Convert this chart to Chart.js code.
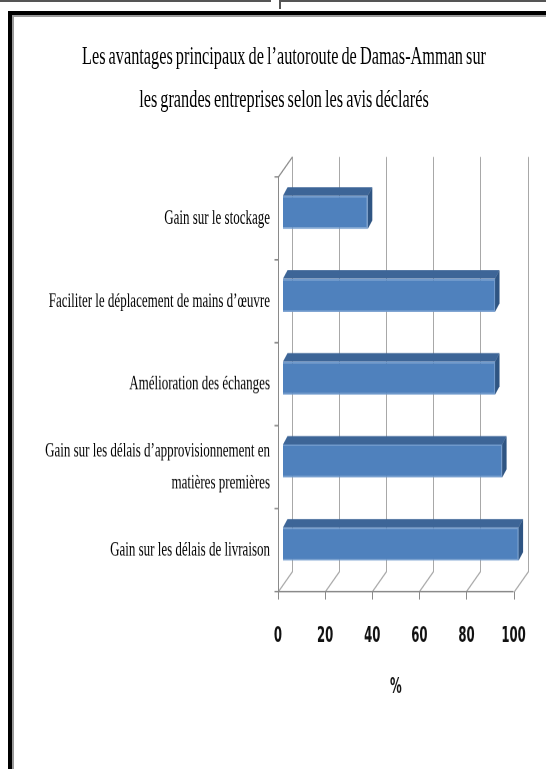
<!DOCTYPE html>
<html>
<head>
<meta charset="utf-8">
<script src="https://cdn.jsdelivr.net/npm/chart.js@4/dist/chart.umd.min.js"></script>
<style>
  html, body { margin: 0; padding: 0; background: #fff; overflow: hidden; }
  body { width: 546px; height: 769px; position: relative; }
  /* the source picture is a squeezed chart, so the canvas is drawn flat and stretched */
  #wrap { position: absolute; left: 0; top: 0; width: 546px; height: 481px; transform: scaleY(1.5988); transform-origin: 0 0; }
  #title { position: absolute; left: 22px; right: 0; top: 22px; text-align: center; font: 16.3px/26.9px 'Liberation Serif', serif; color: #000; word-spacing: -1px; }
  .edge { position: absolute; background: #555; }
  #frame { position: absolute; left: 8px; top: 11px; width: 560px; height: 780px; border-top: 4px solid #000; border-left: 4px solid #000; box-shadow: inset 2px 2px 0 #9a9a9a; pointer-events: none; }
</style>
</head>
<body>
<div class="edge" style="left:0;top:0;width:271px;height:2px"></div>
<div class="edge" style="left:281px;top:0;width:265px;height:2px"></div>
<div class="edge" style="left:279px;top:0;width:2px;height:9px"></div>
<div id="frame"></div>
<div id="wrap"><div id="title"></div><canvas id="chart"></canvas></div>
<script>
const titleLines = ["Les avantages principaux de l\u2019autoroute de Damas-Amman sur", "les grandes entreprises selon les avis d\u00e9clar\u00e9s"];
const categories = [
  "Gain sur le stockage",
  "Faciliter le d\u00e9placement de mains d\u2019\u0153uvre",
  "Am\u00e9lioration des \u00e9changes",
  ["Gain sur les d\u00e9lais d\u2019approvisionnement en", "mati\u00e8res premi\u00e8res"],
  "Gain sur les d\u00e9lais de livraison"
];
const values = [36, 90, 90, 93, 100];
const xTicks = [0, 20, 40, 60, 80, 100];
const axisTitle = "%";

const wallDepth = { dx: 14, dy: -12.5 };
const barShift = { dx: 5, dy: -3.75 };
const barDepth = { dx: 4.5, dy: -5.3 };

document.getElementById('title').innerHTML = titleLines.join('<br>');

const walls = {
  id: 'walls',
  beforeDatasetsDraw(chart) {
    const { ctx, chartArea: a, scales: { x, y } } = chart;
    ctx.save();
    ctx.lineWidth = 1;
    // back wall gridlines + floor diagonals + ticks under the floor
    xTicks.forEach(v => {
      const px = Math.round(x.getPixelForValue(v)) + 0.5;
      ctx.strokeStyle = '#a8a8a8';
      ctx.beginPath();
      ctx.moveTo(px + wallDepth.dx, a.top + wallDepth.dy);
      ctx.lineTo(px + wallDepth.dx, a.bottom + wallDepth.dy);
      ctx.lineTo(px, a.bottom);
      ctx.stroke();
      ctx.strokeStyle = '#8a8a8a';
      ctx.beginPath();
      ctx.moveTo(px, a.bottom);
      ctx.lineTo(px, a.bottom + 5);
      ctx.stroke();
    });
    // floor front edge
    ctx.strokeStyle = '#8a8a8a';
    ctx.beginPath();
    ctx.moveTo(a.left, a.bottom);
    ctx.lineTo(x.getPixelForValue(100), a.bottom);
    ctx.stroke();
    // left wall
    const lx = Math.round(a.left) + 0.5;
    ctx.beginPath();
    ctx.moveTo(lx, a.bottom);
    ctx.lineTo(lx, a.top);
    ctx.lineTo(lx + wallDepth.dx, a.top + wallDepth.dy);
    ctx.stroke();
    for (let i = 0; i <= categories.length; i++) {
      const py = y.getPixelForValue(i - 0.5);
      ctx.beginPath();
      ctx.moveTo(lx - 4, py);
      ctx.lineTo(lx, py);
      ctx.stroke();
    }
    ctx.restore();
  },
  beforeDatasetDraw(chart) {
    chart.ctx.save();
    chart.ctx.translate(barShift.dx, barShift.dy);
  },
  afterDatasetDraw(chart, args) {
    const ctx = chart.ctx;
    args.meta.data.forEach(bar => {
      const { x, y, base, height } = bar.getProps(['x', 'y', 'base', 'height'], true);
      const top = y - height / 2, bottom = y + height / 2;
      ctx.fillStyle = '#3d6597';
      ctx.beginPath();
      ctx.moveTo(base, top);
      ctx.lineTo(x, top);
      ctx.lineTo(x + barDepth.dx, top + barDepth.dy);
      ctx.lineTo(base + barDepth.dx, top + barDepth.dy);
      ctx.closePath();
      ctx.fill();
      ctx.fillStyle = '#2f5583';
      ctx.beginPath();
      ctx.moveTo(x, top);
      ctx.lineTo(x + barDepth.dx, top + barDepth.dy);
      ctx.lineTo(x + barDepth.dx, bottom + barDepth.dy);
      ctx.lineTo(x, bottom);
      ctx.closePath();
      ctx.fill();
    });
    ctx.restore();
  }
};

const tickFont = { family: "'Liberation Sans Narrow', 'DejaVu Sans Condensed', sans-serif", size: 13, weight: 'bold' };

new Chart(document.getElementById('chart'), {
  type: 'bar',
  data: {
    labels: categories,
    datasets: [{
      data: values,
      backgroundColor: '#4f81bd',
      borderColor: '#6f99cc',
      borderWidth: 1,
      categoryPercentage: 1,
      barPercentage: 0.4,
      clip: false
    }]
  },
  options: {
    indexAxis: 'y',
    responsive: true,
    maintainAspectRatio: false,
    devicePixelRatio: 2,
    animation: false,
    layout: { padding: { left: 22, right: 31, top: 110.6, bottom: 0 } },
    plugins: {
      legend: { display: false },
      tooltip: { enabled: false },
      title: { display: false }
    },
    scales: {
      x: {
        min: 0,
        max: 100,
        afterBuildTicks: s => { s.ticks = xTicks.map(v => ({ value: v })); },
        afterFit: s => { s.height = 111; },
        grid: { display: false, drawTicks: false },
        border: { display: false },
        ticks: { padding: 20.2, color: '#111', font: tickFont },
        title: {
          display: true,
          text: axisTitle,
          color: '#111',
          font: tickFont,
          padding: { top: 0, bottom: 42.9 }
        }
      },
      y: {
        afterFit: s => { s.width = 256; },
        grid: { display: false, drawTicks: false },
        border: { display: false },
        ticks: {
          padding: 8,
          color: '#000',
          font: { family: "'Liberation Serif', serif", size: 13, lineHeight: 1.54 }
        }
      }
    }
  },
  plugins: [walls]
});
</script>
</body>
</html>
